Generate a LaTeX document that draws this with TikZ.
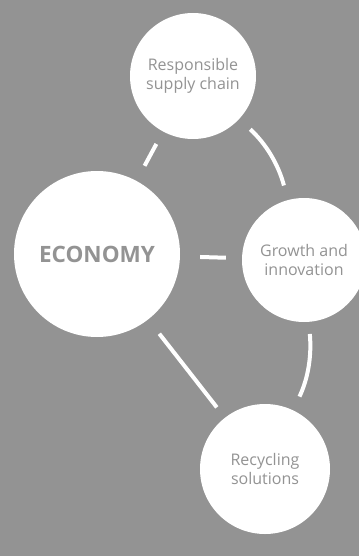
\documentclass[tikz,border=0pt]{standalone}
\usepackage{fontspec}
\setmainfont{Open Sans}
\definecolor{bggray}{HTML}{939393}

\begin{document}
\begin{tikzpicture}[x=1pt, y=1pt,
    bubble/.style={circle, fill=white, text=bggray, align=center, inner sep=0pt,
      font=\fontsize{16}{19.5}\selectfont},
    link/.style={draw=white, line width=4pt}]
    % draw background
    \clip (0,0) rectangle (359,-556);
    \fill[bggray] (0,0) rectangle (359,-556);

    % draw circles
    \node[bubble, minimum size=126pt] (supply) at (193,-76) {Responsible\\supply chain};
    \node[bubble, minimum size=166pt, font=\bfseries\fontsize{22.5}{26}\selectfont] (econ) at (97,-254) {ECONOMY};
    \node[bubble, minimum size=124pt] (growth) at (304,-260) {Growth and\\innovation};
    \node[bubble, minimum size=130pt] (recycle) at (265,-469) {Recycling\\solutions};

    % draw links
    \draw[link, shorten <=14pt, shorten >=17pt] (supply) -- (econ);
    \draw[link, shorten <=15pt, shorten >=15pt] (supply) to[bend left=16] (growth);
    \draw[link, shorten <=20pt, shorten >=16pt] (econ) -- (growth);
    \draw[link, shorten <=12pt, shorten >=15pt] (growth) to[bend left=15] (recycle);
    \draw[link, shorten <=18pt, shorten >=13pt] (econ) -- (recycle);
\end{tikzpicture}
\end{document}
